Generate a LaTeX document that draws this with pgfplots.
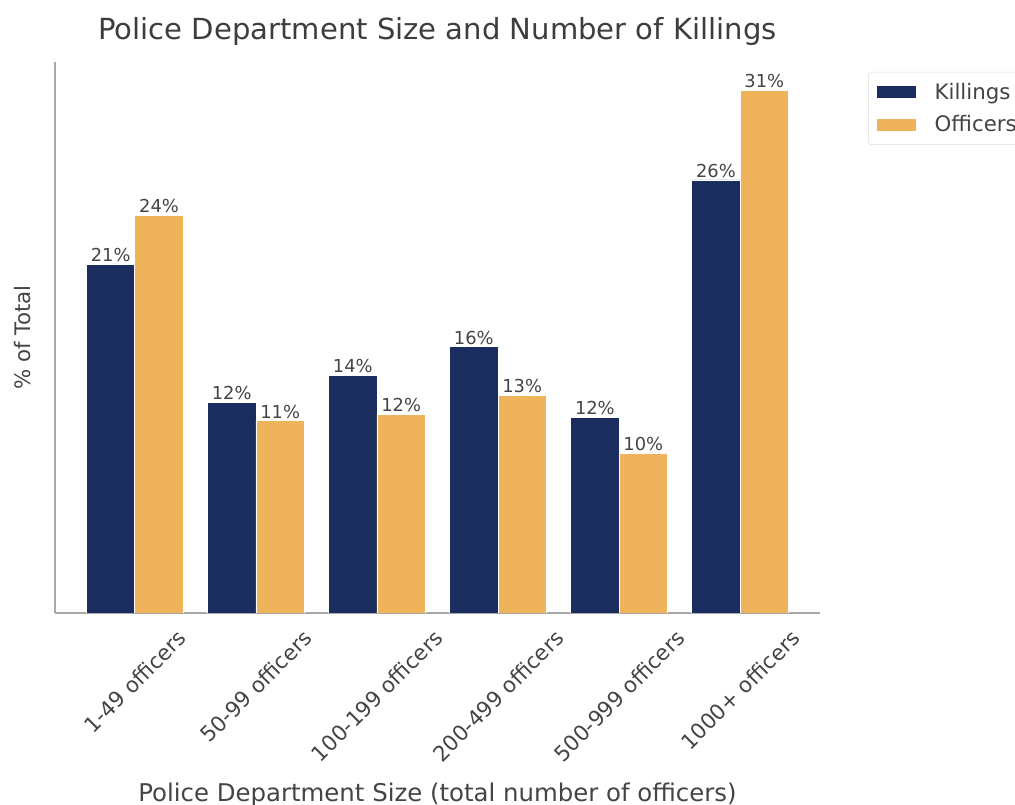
\documentclass[border=0pt]{standalone}
\usepackage{pgfplots}
\usepackage{pgfplotstable}
\usepackage{fontspec}
\setmainfont{DejaVu Sans}
\pgfplotsset{compat=1.18}
\definecolor{navy}{HTML}{1B2D5E}
\definecolor{amber}{HTML}{EFB35C}
\definecolor{txt}{HTML}{444444}
\definecolor{spine}{HTML}{A8A8A8}
\pgfplotstableread{
x K Klab O Olab
0 20.7 21 23.6 24
1 12.5 12 11.4 11
2 14.1 14 11.8 12
3 15.8 16 12.9 13
4 11.6 12 9.5 10
5 25.7 26 31.0 31
}\datatab
\begin{document}
\begin{tikzpicture}
\path[use as bounding box] (0,0) rectangle (761.25pt,603.75pt);
\begin{axis}[
  at={(41.25pt,144pt)}, anchor=south west,
  scale only axis, width=573.75pt, height=413.25pt,
  xmin=-0.66, xmax=5.66, ymin=0, ymax=32.7,
  axis x line*=bottom, axis y line*=left,
  axis line style={spine, line width=0.8pt, -},
  ytick=\empty,
  xtick={0,1,2,3,4,5},
  major tick length=0pt,
  xticklabels={{\rotatebox{45}{1-49 officers}},{\rotatebox{45}{50-99 officers}},{\rotatebox{45}{100-199 officers}},{\rotatebox{45}{200-499 officers}},{\rotatebox{45}{500-999 officers}},{\rotatebox{45}{1000+ officers}}},
  xticklabel style={anchor=north, yshift=-8pt, font=\fontsize{16}{19}\selectfont, text=txt},
  title={Police Department Size and Number of Killings},
  title style={at={(axis description cs:0.5,1)}, anchor=center, yshift=17pt, font=\fontsize{21.8}{26}\selectfont, text=txt!90!black},
  xlabel={Police Department Size (total number of officers)},
  xlabel style={at={(axis description cs:0.5,0)}, anchor=center, yshift=-136.5pt, font=\fontsize{18.3}{22}\selectfont, text=txt},
  ylabel={\% of Total},
  ylabel style={at={(axis description cs:-0.043,0.5)}, anchor=center, rotate=0, font=\fontsize{16}{19}\selectfont, text=txt},
  ybar, bar width=0.4,
  nodes near coords={\pgfplotspointmeta\%},
  point meta=explicit symbolic,
  every node near coord/.append style={font=\fontsize{13.4}{15}\selectfont, text=txt, inner sep=1.5pt},
  legend style={at={(axis description cs:1.063,0.982)}, anchor=north west, draw=black!13, rounded corners=2pt, fill=white, font=\fontsize{16}{19}\selectfont, text=txt, row sep=7pt, inner xsep=6pt, inner ysep=6pt, nodes={inner xsep=13pt}},
  legend cell align=left,
  legend image code/.code={\fill[#1, sharp corners] (0pt,-5pt) rectangle (30pt,5pt);},
]
\addplot[fill=navy, draw=white, line width=0.6pt, bar shift=-0.2] table[x=x, y=K, meta=Klab] {\datatab};
\addlegendentry{Killings}
\addplot[fill=amber, draw=white, line width=0.6pt, bar shift=0.2] table[x=x, y=O, meta=Olab] {\datatab};
\addlegendentry{Officers}
\end{axis}
\end{tikzpicture}
\end{document}
